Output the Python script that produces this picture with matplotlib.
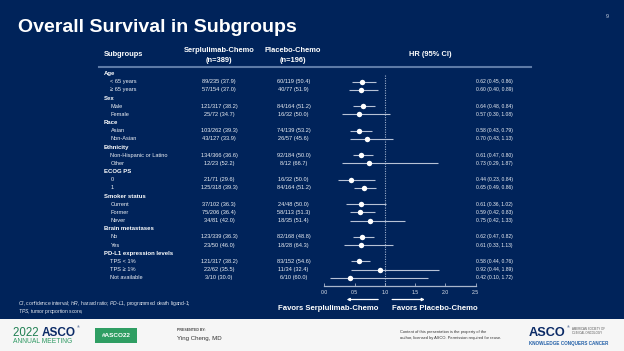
import numpy as np
import matplotlib
matplotlib.use("Agg")
import matplotlib.pyplot as plt
from matplotlib import transforms
from matplotlib.patches import Rectangle
from matplotlib.lines import Line2D

# ---------------- data ----------------
row_labels = ["Age", "< 65 years", "≥ 65 years",
              "Sex", "Male", "Female",
              "Race", "Asian", "Non-Asian",
              "Ethnicity", "Non-Hispanic or Latino", "Other",
              "ECOG PS", "0", "1",
              "Smoker status", "Current", "Former", "Never",
              "Brain metastases", "No", "Yes",
              "PD-L1 expression levels", "TPS < 1%", "TPS ≥ 1%", "Not available"]
is_header = [True, False, False, True, False, False, True, False, False,
             True, False, False, True, False, False, True, False, False, False,
             True, False, False, True, False, False, False]
serp_counts = ["", "89/235 (37.9)", "57/154 (37.0)",
               "", "121/317 (38.2)", "25/72 (34.7)",
               "", "103/262 (39.3)", "43/127 (33.9)",
               "", "134/366 (36.6)", "12/23 (52.2)",
               "", "21/71 (29.6)", "125/318 (39.3)",
               "", "37/102 (36.3)", "75/206 (36.4)", "34/81 (42.0)",
               "", "123/339 (36.3)", "23/50 (46.0)",
               "", "121/317 (38.2)", "22/62 (35.5)", "3/10 (30.0)"]
placebo_counts = ["", "60/119 (50.4)", "40/77 (51.9)",
                  "", "84/164 (51.2)", "16/32 (50.0)",
                  "", "74/139 (53.2)", "26/57 (45.6)",
                  "", "92/184 (50.0)", "8/12 (66.7)",
                  "", "16/32 (50.0)", "84/164 (51.2)",
                  "", "24/48 (50.0)", "58/113 (51.3)", "18/35 (51.4)",
                  "", "82/168 (48.8)", "18/28 (64.3)",
                  "", "83/152 (54.6)", "11/34 (32.4)", "6/10 (60.0)"]
nan = np.nan
hr = [nan, 0.62, 0.60, nan, 0.64, 0.57, nan, 0.58, 0.70, nan, 0.61, 0.73,
      nan, 0.44, 0.65, nan, 0.61, 0.59, 0.75, nan, 0.62, 0.61, nan, 0.58, 0.92, 0.42]
ci_low = [nan, 0.45, 0.40, nan, 0.48, 0.30, nan, 0.43, 0.43, nan, 0.47, 0.29,
          nan, 0.23, 0.49, nan, 0.36, 0.42, 0.42, nan, 0.47, 0.33, nan, 0.44, 0.44, 0.10]
ci_high = [nan, 0.86, 0.89, nan, 0.84, 1.08, nan, 0.79, 1.13, nan, 0.80, 1.87,
           nan, 0.84, 0.86, nan, 1.02, 0.83, 1.33, nan, 0.82, 1.13, nan, 0.76, 1.89, 1.72]
x_ticks = [0.0, 0.5, 1.0, 1.5, 2.0, 2.5]
x_ticklabels = ["0.0", "0.5", "1.0", "1.5", "2.0", "2.5"]

# ---------------- figure ----------------
W, H = 624, 351
NAVY = "#00235a"
plt.rcParams['font.family'] = ['Liberation Sans', 'DejaVu Sans']
plt.rcParams['mathtext.fontset'] = 'custom'
plt.rcParams['mathtext.it'] = 'Liberation Sans:italic'
plt.rcParams['mathtext.rm'] = 'Liberation Sans'
fig = plt.figure(figsize=(6.24, 3.51), dpi=100)
fig.patch.set_facecolor(NAVY)

def fx(x):
    return x / W

def fy(y):
    return 1 - y / H

# forest axes
r0_px, step = 73.5, 8.17
top_px, bot_px = 67, 286
ax = fig.add_axes([fx(324.3), fy(bot_px), (475.7 - 324.3) / W, (bot_px - top_px) / H])
ax.set_facecolor('none')
ax.set_xlim(0, 2.5)
ax.set_ylim((bot_px - r0_px) / step, (top_px - r0_px) / step)
rows = np.arange(len(row_labels))
hr_a = np.array(hr); lo_a = np.array(ci_low); hi_a = np.array(ci_high)
m = ~np.isnan(hr_a)
ax.vlines(1.0, (75 - r0_px) / step, (bot_px - r0_px) / step, colors="#9fb0cc",
          linestyles=(0, (1, 1.2)), lw=0.8, zorder=1)
ax.errorbar(hr_a[m], rows[m], xerr=[hr_a[m] - lo_a[m], hi_a[m] - hr_a[m]],
            fmt='o', color='white', ecolor='#b7c2d6', elinewidth=0.8,
            capsize=1.5, capthick=0.7, markersize=3.9, markeredgewidth=0,
            clip_on=False, zorder=3)
for s in ['top', 'right', 'left']:
    ax.spines[s].set_visible(False)
ax.spines['bottom'].set_color('#a9b6cc')
ax.spines['bottom'].set_linewidth(0.9)
ax.set_yticks([])
ax.set_xticks(x_ticks)
ax.set_xticklabels(x_ticklabels)
ax.tick_params(axis='x', direction='in', length=2, width=0.6, color='#a9b6cc',
               labelsize=3.7, labelcolor='#dfe4ee', pad=3)

# row texts
rt = transforms.blended_transform_factory(fig.transFigure, ax.transData)
for i, lab in enumerate(row_labels):
    if is_header[i]:
        fig.text(fx(104), i, lab, transform=rt, fontsize=4.3, fontweight='bold',
                 color='white', va='center', ha='left')
    else:
        fig.text(fx(110.5), i, lab, transform=rt, fontsize=4.1,
                 color='#eef1f6', va='center', ha='left')
        fig.text(fx(219), i, serp_counts[i], transform=rt, fontsize=4.1,
                 color='#eef1f6', va='center', ha='center')
        fig.text(fx(293.5), i, placebo_counts[i], transform=rt, fontsize=4.1,
                 color='#eef1f6', va='center', ha='center')
        fig.text(fx(476), i, f"{hr[i]:.2f} ({ci_low[i]:.2f}, {ci_high[i]:.2f})",
                 transform=rt, fontsize=3.6, color='#eef1f6', va='center', ha='left')

# title and headers
fig.text(fx(18), fy(28), "Overall Survival in Subgroups", fontsize=14.0,
         fontweight='bold', color='white', va='center', ha='left')
fig.text(fx(607.5), fy(17), "9", fontsize=4, color='#c8d0e0', va='center', ha='center')
fig.text(fx(104), fy(55), "Subgroups", fontsize=5.4, fontweight='bold', color='white',
         va='center', ha='left')
fig.text(fx(219), fy(50), "Serplulimab-Chemo", fontsize=5.4, fontweight='bold',
         color='white', va='center', ha='center')
fig.text(fx(219), fy(60), "(n=389)", fontsize=5.4, fontweight='bold',
         color='white', va='center', ha='center')
fig.text(fx(293), fy(50), "Placebo-Chemo", fontsize=5.4, fontweight='bold',
         color='white', va='center', ha='center')
fig.text(fx(293), fy(60), "(n=196)", fontsize=5.4, fontweight='bold',
         color='white', va='center', ha='center')
fig.text(fx(430), fy(55), "HR (95% CI)", fontsize=5.4, fontweight='bold',
         color='white', va='center', ha='center')
fig.add_artist(Line2D([fx(99), fx(531)], [fy(67.3), fy(67.3)], color='#5d7aa6',
                      lw=1.5, transform=fig.transFigure))

# favors arrows and labels
at = transforms.blended_transform_factory(ax.transData, fig.transFigure)
ax.annotate("", xy=(0.37, fy(299.5)), xytext=(0.89, fy(299.5)), xycoords=at,
            textcoords=at, arrowprops=dict(arrowstyle='-|>', color='white', lw=0.9,
                                           mutation_scale=4, shrinkA=0, shrinkB=0))
ax.annotate("", xy=(1.66, fy(299.5)), xytext=(1.12, fy(299.5)), xycoords=at,
            textcoords=at, arrowprops=dict(arrowstyle='-|>', color='white', lw=0.9,
                                           mutation_scale=4, shrinkA=0, shrinkB=0))
fig.text(fx(378.5), fy(309), "Favors Serplulimab-Chemo", fontsize=5.6, fontweight='bold',
         color='white', va='center', ha='right')
fig.text(fx(391.5), fy(309), "Favors Placebo-Chemo", fontsize=5.6, fontweight='bold',
         color='white', va='center', ha='left')

# footnote (italic abbreviations via mathtext)
fig.text(fx(18), fy(305.0),
         r"$\mathit{CI}$, confidence interval; $\mathit{HR}$, hazard ratio; "
         r"$\mathit{PD}$-$\mathit{L1}$, programmed death ligand-1;",
         fontsize=3.6, color='#e6eaf2', va='baseline', ha='left')
fig.text(fx(18), fy(313.0), r"$\mathit{TPS}$, tumor proportion score;",
         fontsize=3.6, color='#e6eaf2', va='baseline', ha='left')

# footer band
fig.add_artist(Rectangle((0, 0), 1, fy(318.5), transform=fig.transFigure,
                         facecolor='#f6f6f6', edgecolor='none', zorder=0))

renderer = fig.canvas.get_renderer()
t1 = fig.text(fx(13), fy(335.5), "2022 ", fontsize=8.3, color='#1f7f52',
              va='baseline', ha='left')
x1 = t1.get_window_extent(renderer=renderer).x1
t2 = fig.text(x1 / W, fy(335.5), "ASCO", fontsize=8.5, fontweight='bold',
              color='#0b2a66', va='baseline', ha='left')
x2 = t2.get_window_extent(renderer=renderer).x1
fig.text(x2 / W + 0.001, fy(327.5), "®", fontsize=2.8, color='#0b2a66',
         va='center', ha='left')
fig.text(fx(13), fy(341.5), "ANNUAL MEETING", fontsize=4.9, color='#2f9a64',
         va='center', ha='left')
fig.add_artist(Rectangle((fx(95), fy(343)), fx(137) - fx(95), fy(327.7) - fy(343),
                         transform=fig.transFigure, facecolor='#2f9e63', edgecolor='none'))
fig.text(fx(116), fy(335.3), "#ASCO22", fontsize=4.6, fontweight='bold', color='white',
         va='center', ha='center')
fig.text(fx(177), fy(330), "PRESENTED BY:", fontsize=2.5, fontweight='bold',
         color='#444444', va='center', ha='left')
fig.text(fx(177), fy(338.3), "Ying Cheng, MD", fontsize=4.4, color='#333333',
         va='center', ha='left')
fig.text(fx(400), fy(331.5), "Content of this presentation is the property of the",
         fontsize=2.9, color='#333333', va='center', ha='left')
fig.text(fx(400), fy(338), "author, licensed by ASCO. Permission required for reuse.",
         fontsize=2.9, color='#333333', va='center', ha='left')
fig.text(fx(529), fy(335.5), "ASCO", fontsize=9.2, fontweight='bold', color='#0b2a66',
         va='baseline', ha='left')
fig.text(fx(566.5), fy(327.5), "®", fontsize=2.8, color='#0b2a66', va='center', ha='left')
fig.text(fx(572), fy(328.5), "AMERICAN SOCIETY OF", fontsize=2.1, color='#555555',
         va='center', ha='left')
fig.text(fx(572), fy(332.8), "CLINICAL ONCOLOGY", fontsize=2.1, color='#555555',
         va='center', ha='left')
fig.text(fx(529), fy(343), "KNOWLEDGE CONQUERS CANCER", fontsize=3.3, fontweight='bold',
         color='#2360a8', va='center', ha='left')

fig.savefig("out.png", dpi=100, facecolor=fig.get_facecolor())
